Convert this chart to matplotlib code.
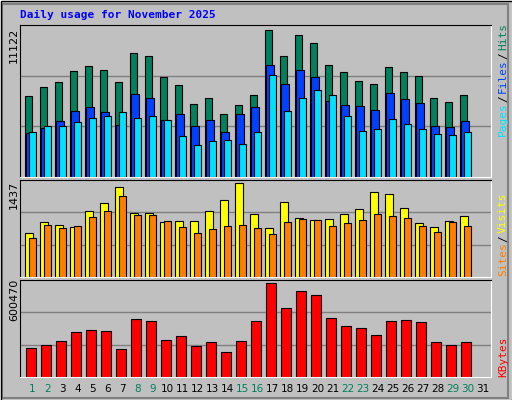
import matplotlib
matplotlib.use("Agg")
import matplotlib.pyplot as plt
from matplotlib.patches import Rectangle

days = list(range(1, 32))
hits = [6140,6819,7197,8027,8404,8102,7197,9386,9159,7574,6970,5536,5989,4781,5460,6215,11122,9159,10745,10141,8480,7951,7272,7046,8329,7951,7649,5989,5687,6215]
files = [3347,3724,4252,5007,5309,4932,3951,6291,5989,4328,4781,3875,4328,3422,4781,5309,8480,7046,8102,7574,5762,5460,5385,5083,6366,5913,5611,3875,3800,4252]
pages = [3422,3875,3875,4177,4479,4630,4932,4479,4630,4328,3120,2441,2743,2818,2516,3422,7725,5007,5989,6593,6215,4630,3498,3649,4404,4026,3649,3271,3196,3422]
visits = [672,844,797,765,1015,1125,1375,984,984,844,859,859,1015,1172,1437,969,750,1140,906,875,890,969,1031,1297,1265,1047,828,765,859,937]
sites = [594,797,750,781,922,1015,1234,953,953,859,765,672,734,781,797,750,656,844,890,875,781,828,875,969,937,906,781,687,844,781]
kbytes = [186278,206000,232300,284900,298000,291500,179700,370400,357200,238900,258600,199400,225700,160000,232300,357200,600470,442700,547900,521600,376900,324300,311200,265200,357200,363800,350600,225700,206000,225700]
weekend = [1,2,8,9,15,16,22,23,29,30]

W, H = 512, 400
fig = plt.figure(figsize=(W/100, H/100), dpi=100, facecolor="#C0C0C0")
# 3D border
fig.patches.append(Rectangle((0, 0), 1, 1, transform=fig.transFigure, fill=False, ec="white", lw=2))
fig.patches.append(Rectangle((2/W, 2/H), 1-6/W, 1-6/H, transform=fig.transFigure, fill=False, ec="#808080", lw=1.5))
fig.patches.append(Rectangle((0.5/W, 0.5/H), 1-1/W, 1-1/H, transform=fig.transFigure, fill=False, ec="black", lw=1))

def mkax(top, bottom):
    ax = fig.add_axes([20/W, 1-bottom/H, 471/W, (bottom-top)/H])
    ax.set_facecolor("#C0C0C0")
    ax.set_xlim(-0.333, 31.07)
    ax.set_xticks([]); ax.set_yticks([])
    for s in ["left", "top"]:
        ax.spines[s].set_color("black")
    for s in ["right", "bottom"]:
        ax.spines[s].set_color("white")
    for f in (1/3, 2/3):
        ax.plot([0, 1], [f, f], transform=ax.transAxes, color="#808080", lw=1, zorder=0.5)
    return ax

x0 = [d - 1 for d in days[:30]]
kw = dict(align="edge", edgecolor="black", linewidth=0.8, zorder=2)

ax1 = mkax(25, 177)
ax1.bar(x0, hits, width=0.49, color="#00805C", **kw)
ax1.bar([x + 0.09 for x in x0], files, width=0.49, color="#0040FF", **kw)
ax1.bar([x + 0.27 for x in x0], pages, width=0.49, color="#00E0FF", **kw)
ax1.set_ylim(0, max(hits) / 0.97)

ax2 = mkax(180, 277)
ax2.bar(x0, visits, width=0.53, color="#FFFF00", **kw)
ax2.bar([x + 0.27 for x in x0], sites, width=0.49, color="#FF8000", **kw)
ax2.set_ylim(0, max(visits) / 0.97)

ax3 = mkax(280, 377)
ax3.bar([x + 0.07 for x in x0], kbytes, width=0.66, color="#FF0000", **kw)
ax3.set_ylim(0, max(kbytes) / 0.97)

mono = "DejaVu Sans Mono"
fig.text(20/W, 1-15/H, "Daily usage for November 2025", color="#0000FF", fontweight="bold",
         family=mono, fontsize=8, va="center", ha="left")
for y, lbl in [(45, "11122"), (195, "1437"), (300, "600470")]:
    fig.text(14/W, 1-y/H, lbl, rotation=90, fontsize=8, family="DejaVu Sans", va="center", ha="center")

def stack(parts, ybottom):
    y = ybottom
    for txt, col in parts:
        t = fig.text(503/W, 1-y/H, txt, rotation=90, color=col, family=mono, fontsize=8,
                     va="bottom", ha="center")
        y -= len(txt) * 6.2 + 3

stack([("Pages", "#00E0FF"), ("/", "#000000"), ("Files", "#0040FF"), ("/", "#000000"), ("Hits", "#00805C")], 136)
stack([("Sites", "#FF8000"), ("/", "#000000"), ("Visits", "#FFFF00")], 276)
stack([("KBytes", "#FF0000")], 377)

for d in days:
    xpx = 20 + (0.333 + d - 0.5) * 471 / 31.403
    fig.text(xpx/W, 1-389/H, str(d), color="#00805C" if d in weekend else "black",
             fontsize=7.5, ha="center", va="center")

fig.savefig("out.png", dpi=100, facecolor=fig.get_facecolor())
